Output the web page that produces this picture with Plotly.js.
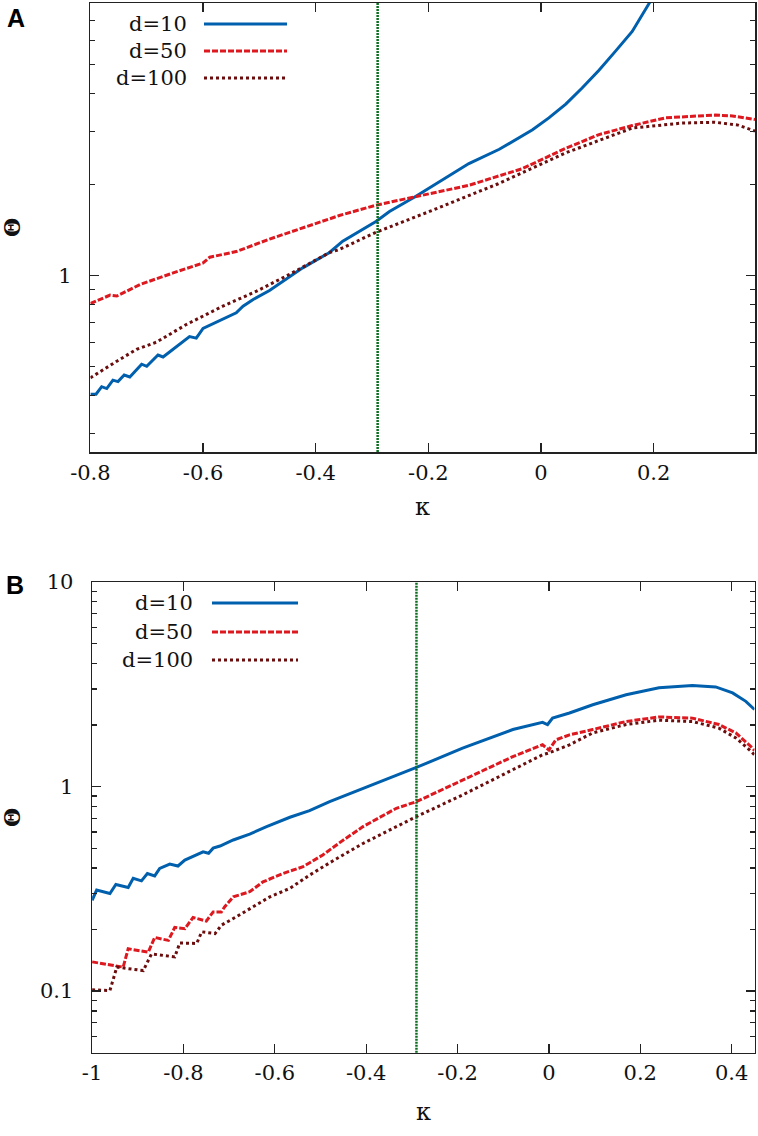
<!DOCTYPE html>
<html>
<head>
<meta charset="utf-8">
<script src="https://cdn.plot.ly/plotly-3.0.1.min.js"></script>
<style>html,body{margin:0;padding:0;background:#fff;}#chart{width:758px;height:1136px;}</style>
</head>
<body>
<div id="chart"></div>
<script>
// ---------- Panel A data (kappa, Theta) ----------
const kappaA_d10 = [-0.800,-0.790,-0.780,-0.771,-0.760,-0.751,-0.740,-0.730,-0.709,-0.700,-0.680,-0.671,-0.624,-0.612,-0.600,-0.541,-0.529,-0.511,-0.482,-0.423,-0.376,-0.352,-0.293,-0.269,-0.222,-0.198,-0.163,-0.128,-0.074,-0.045,-0.015,0.014,0.044,0.073,0.103,0.132,0.162,0.193,0.203];
const thetaA_d10 = [0.404,0.404,0.428,0.422,0.450,0.445,0.468,0.461,0.508,0.500,0.545,0.537,0.627,0.620,0.668,0.752,0.791,0.833,0.892,1.06,1.19,1.30,1.51,1.63,1.83,1.95,2.14,2.35,2.62,2.81,3.04,3.33,3.70,4.18,4.79,5.53,6.44,8.03,9.40];

const kappaA_d50 = [-0.800,-0.765,-0.753,-0.712,-0.653,-0.600,-0.588,-0.541,-0.482,-0.423,-0.376,-0.358,-0.293,-0.222,-0.128,-0.074,-0.033,0.044,0.103,0.162,0.221,0.280,0.309,0.340,0.376,0.380];
const thetaA_d50 = [0.807,0.861,0.855,0.933,1.02,1.10,1.15,1.20,1.32,1.44,1.54,1.58,1.71,1.83,1.99,2.14,2.26,2.64,2.93,3.14,3.33,3.38,3.40,3.38,3.30,3.29];

const kappaA_d100 = [-0.800,-0.777,-0.753,-0.718,-0.683,-0.629,-0.565,-0.505,-0.446,-0.376,-0.358,-0.293,-0.198,-0.077,0.044,0.162,0.250,0.309,0.350,0.376,0.380];
const thetaA_d100 = [0.458,0.489,0.520,0.569,0.601,0.689,0.791,0.887,1.01,1.19,1.22,1.39,1.63,2.01,2.55,3.08,3.20,3.22,3.15,3.03,3.01];

// ---------- Panel B data (kappa, Theta) ----------
const kappaB_d10 = [-1.000,-0.990,-0.961,-0.948,-0.921,-0.910,-0.892,-0.879,-0.863,-0.852,-0.830,-0.812,-0.797,-0.779,-0.757,-0.745,-0.735,-0.720,-0.691,-0.655,-0.618,-0.567,-0.524,-0.480,-0.407,-0.334,-0.290,-0.189,-0.079,-0.014,-0.003,0.008,0.045,0.096,0.169,0.241,0.314,0.365,0.402,0.431,0.450];
const thetaB_d10 = [0.278,0.312,0.300,0.332,0.321,0.356,0.346,0.376,0.366,0.398,0.418,0.409,0.437,0.454,0.480,0.472,0.500,0.512,0.548,0.586,0.637,0.708,0.763,0.844,0.98,1.14,1.24,1.54,1.90,2.06,2.01,2.16,2.29,2.51,2.81,3.04,3.12,3.07,2.87,2.61,2.38];

const kappaB_d50 = [-1.000,-0.932,-0.921,-0.877,-0.863,-0.833,-0.819,-0.797,-0.779,-0.750,-0.735,-0.717,-0.710,-0.691,-0.655,-0.626,-0.582,-0.538,-0.495,-0.458,-0.407,-0.334,-0.290,-0.189,-0.079,-0.014,0.000,0.015,0.045,0.096,0.169,0.241,0.314,0.372,0.409,0.442,0.450];
const thetaB_d50 = [0.139,0.131,0.161,0.155,0.183,0.177,0.205,0.202,0.229,0.220,0.244,0.244,0.258,0.289,0.306,0.342,0.376,0.406,0.463,0.532,0.637,0.783,0.844,1.08,1.40,1.60,1.51,1.69,1.79,1.90,2.08,2.19,2.16,2.01,1.83,1.57,1.50];

const kappaB_d100 = [-1.000,-0.961,-0.950,-0.946,-0.888,-0.870,-0.819,-0.808,-0.771,-0.760,-0.731,-0.717,-0.684,-0.648,-0.611,-0.567,-0.524,-0.480,-0.407,-0.334,-0.290,-0.189,-0.079,-0.014,0.000,0.045,0.096,0.169,0.241,0.314,0.372,0.409,0.442,0.450];
const thetaB_d100 = [0.1015,0.1007,0.122,0.131,0.126,0.152,0.147,0.172,0.171,0.195,0.191,0.210,0.231,0.258,0.289,0.318,0.369,0.424,0.527,0.637,0.713,0.910,1.21,1.43,1.46,1.60,1.83,2.01,2.11,2.08,1.93,1.73,1.49,1.43];

// ---------- labels / ticks ----------
const seriesNames = ["d=10", "d=50", "d=100"];
const kappaMarker = -0.29;
const xTicksA = [-0.8, -0.6, -0.4, -0.2, 0, 0.2];
const xTickTextA = ["-0.8", "-0.6", "-0.4", "-0.2", "0", "0.2"];
const xTicksB = [-1, -0.8, -0.6, -0.4, -0.2, 0, 0.2, 0.4];
const xTickTextB = ["-1", "-0.8", "-0.6", "-0.4", "-0.2", "0", "0.2", "0.4"];
const yTicksA = [1];
const yTickTextA = ["1"];
const yMinorA = [0.3, 0.4, 0.5, 0.6, 0.7, 0.8, 0.9, 2, 3, 4, 5, 6, 7, 8];
const yTicksB = [0.1, 1, 10];
const yTickTextB = ["0.1", "1", "10"];
const yMinorB = [0.06, 0.07, 0.08, 0.09, 0.2, 0.3, 0.4, 0.5, 0.6, 0.7, 0.8, 0.9, 2, 3, 4, 5, 6, 7, 8, 9];

// ---------- styles ----------
const W = 758, H = 1136;
const colors = ["#0060ad", "#dd181f", "#6b0d0d"];
const dashes = ["solid", "6px,2px", "3px,3px"];
const serif = "DejaVu Serif";
const sans = "Liberation Sans";

function tr(x, y, i, xa, ya) {
  return {x: x, y: y, type: "scatter", mode: "lines", name: seriesNames[i],
    xaxis: xa, yaxis: ya, showlegend: false, hoverinfo: "skip",
    line: {color: colors[i], width: 3, dash: dashes[i]}};
}

const data = [
  tr(kappaA_d10, thetaA_d10, 0, "x", "y"),
  tr(kappaA_d50, thetaA_d50, 1, "x", "y"),
  tr(kappaA_d100, thetaA_d100, 2, "x", "y"),
  tr(kappaB_d10, thetaB_d10, 0, "x2", "y2"),
  tr(kappaB_d50, thetaB_d50, 1, "x2", "y2"),
  tr(kappaB_d100, thetaB_d100, 2, "x2", "y2")
];

const px = v => v / W;
const py = v => 1 - v / H;

function xax(dom, range, tv, tt, anchor) {
  return {domain: dom, range: range, anchor: anchor, tickmode: "array", tickvals: tv, ticktext: tt,
    ticks: "inside", ticklen: 9, tickwidth: 1.3, tickcolor: "#222",
    showline: true, linecolor: "#222", linewidth: 1.5, mirror: "allticks",
    showgrid: false, zeroline: false, ticklabelstandoff: 1,
    tickfont: {family: serif, size: 21, color: "#111"}};
}
function yax(dom, range, tv, tt, minor, anchor) {
  return {domain: dom, type: "log", range: range, anchor: anchor, tickmode: "array", tickvals: tv, ticktext: tt,
    ticks: "inside", ticklen: 9, tickwidth: 1.3, tickcolor: "#222",
    minor: {tickmode: "array", tickvals: minor, ticks: "inside", ticklen: 5, tickwidth: 1.2, tickcolor: "#222", showgrid: false},
    showline: true, linecolor: "#222", linewidth: 1.5, mirror: "allticks",
    showgrid: false, zeroline: false, ticklabelstandoff: 13,
    tickfont: {family: serif, size: 21, color: "#111"}};
}

const shapes = [
  {type: "line", xref: "x", yref: "y domain", x0: kappaMarker, x1: kappaMarker, y0: 0, y1: 1,
   line: {color: "#0a6e1e", width: 2.5, dash: "2px,1px"}},
  {type: "line", xref: "x2", yref: "y2 domain", x0: kappaMarker, x1: kappaMarker, y0: 0, y1: 1,
   line: {color: "#0a6e1e", width: 2.5, dash: "2px,1px"}}
];
const annotations = [];

function legend(textRight, x0, x1, ys) {
  for (let i = 0; i < 3; i++) {
    annotations.push({xref: "paper", yref: "paper", x: px(textRight), y: py(ys[i]), xanchor: "right", yanchor: "middle",
      text: seriesNames[i], showarrow: false, font: {family: serif, size: 21, color: "#111"}});
    shapes.push({type: "line", xref: "paper", yref: "paper", x0: px(x0), x1: px(x1), y0: py(ys[i]), y1: py(ys[i]),
      line: {color: colors[i], width: 3, dash: dashes[i]}});
  }
}
legend(189, 204, 287, [24, 51, 78]);
legend(195, 212, 298, [603, 632, 660]);

annotations.push(
  {xref: "paper", yref: "paper", x: px(16), y: py(18), xanchor: "center", yanchor: "middle", text: "<b>A</b>", showarrow: false,
   font: {family: sans, size: 25, color: "#000"}},
  {xref: "paper", yref: "paper", x: px(15), y: py(585), xanchor: "center", yanchor: "middle", text: "<b>B</b>", showarrow: false,
   font: {family: sans, size: 25, color: "#000"}},
  {xref: "paper", yref: "paper", x: px(12), y: py(228), xanchor: "center", yanchor: "middle", text: "<b>Θ</b>", textangle: -90, showarrow: false,
   font: {family: serif, size: 22, color: "#111"}},
  {xref: "paper", yref: "paper", x: px(12), y: py(818), xanchor: "center", yanchor: "middle", text: "<b>Θ</b>", textangle: -90, showarrow: false,
   font: {family: serif, size: 22, color: "#111"}},
  {xref: "paper", yref: "paper", x: px(422), y: py(507), xanchor: "center", yanchor: "middle", text: "κ", showarrow: false,
   font: {family: serif, size: 24, color: "#111"}},
  {xref: "paper", yref: "paper", x: px(423), y: py(1112), xanchor: "center", yanchor: "middle", text: "κ", showarrow: false,
   font: {family: serif, size: 24, color: "#111"}}
);

const layout = {
  width: W, height: H, margin: {l: 0, r: 0, t: 0, b: 0},
  paper_bgcolor: "#fff", plot_bgcolor: "#fff", showlegend: false,
  font: {family: serif},
  xaxis: xax([px(90.4), px(755)], [-0.8, 0.38], xTicksA, xTickTextA, "y"),
  yaxis: yax([py(452), py(3)], [Math.log10(0.26), Math.log10(8)], yTicksA, yTickTextA, yMinorA, "x"),
  xaxis2: xax([px(92.1), px(754.5)], [-1, 0.45], xTicksB, xTickTextB, "y2"),
  yaxis2: yax([py(1052.7), py(582)], [Math.log10(0.05), Math.log10(10)], yTicksB, yTickTextB, yMinorB, "x2"),
  shapes: shapes, annotations: annotations
};

Plotly.newPlot("chart", data, layout, {staticPlot: true, displayModeBar: false});
</script>
</body>
</html>
